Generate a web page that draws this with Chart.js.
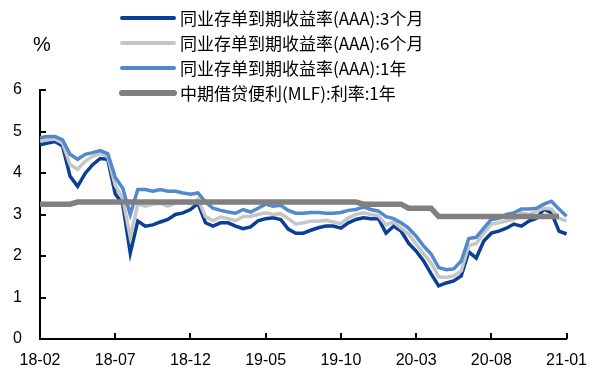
<!DOCTYPE html>
<html>
<head>
<meta charset="utf-8">
<script src="https://cdn.jsdelivr.net/npm/chart.js@4/dist/chart.umd.min.js"></script>
<style>
  html, body { margin: 0; padding: 0; background: #ffffff; }
  #wrap { width: 599px; height: 380px; position: relative; }
</style>
</head>
<body>
<div id="wrap"><canvas id="c" width="599" height="380"></canvas></div>
<script>
// Half-monthly observation dates
const dates = [
  '2018-02-01','2018-02-16','2018-03-01','2018-03-16','2018-04-01','2018-04-16','2018-05-01','2018-05-16',
  '2018-06-01','2018-06-16','2018-07-01','2018-07-16','2018-08-01','2018-08-16','2018-09-01','2018-09-16',
  '2018-10-01','2018-10-16','2018-11-01','2018-11-16','2018-12-01','2018-12-16',
  '2019-01-01','2019-01-16','2019-02-01','2019-02-16','2019-03-01','2019-03-16','2019-04-01','2019-04-16',
  '2019-05-01','2019-05-16','2019-06-01','2019-06-16','2019-07-01','2019-07-16','2019-08-01','2019-08-16',
  '2019-09-01','2019-09-16','2019-10-01','2019-10-16','2019-11-01','2019-11-16','2019-12-01','2019-12-16',
  '2020-01-01','2020-01-16','2020-02-01','2020-02-16','2020-03-01','2020-03-16','2020-04-01','2020-04-16',
  '2020-05-01','2020-05-16','2020-06-01','2020-06-16','2020-07-01','2020-07-16','2020-08-01','2020-08-16',
  '2020-09-01','2020-09-16','2020-10-01','2020-10-16','2020-11-01','2020-11-16','2020-12-01','2020-12-16',
  '2021-01-01'
];

// AAA NCD yield to maturity, 3 months (%)
const ncd3m = [
  4.68, 4.72, 4.76, 4.65, 3.92, 3.68, 3.99, 4.20, 4.35, 4.33,
  3.50, 3.25, 2.07, 2.84, 2.72, 2.75, 2.82, 2.88, 3.00, 3.04,
  3.12, 3.27, 2.80, 2.72, 2.80, 2.80, 2.72, 2.66, 2.70, 2.85,
  2.90, 2.92, 2.88, 2.65, 2.55, 2.55, 2.62, 2.68, 2.72, 2.72,
  2.67, 2.80, 2.88, 2.92, 2.90, 2.90, 2.55, 2.72, 2.60, 2.31,
  2.12, 1.88, 1.57, 1.28, 1.35, 1.40, 1.52, 2.10, 1.95, 2.36,
  2.55, 2.60, 2.67, 2.77, 2.72, 2.84, 2.91, 3.13, 3.04, 2.60, 2.53
];

// AAA NCD yield to maturity, 6 months (%)
const ncd6m = [
  4.77, 4.80, 4.82, 4.72, 4.20, 4.09, 4.28, 4.40, 4.47, 4.40,
  3.70, 3.39, 2.45, 3.25, 3.20, 3.25, 3.27, 3.20, 3.27, 3.32,
  3.25, 3.37, 2.95, 2.85, 2.94, 2.90, 2.85, 2.95, 2.96, 3.00,
  3.04, 3.00, 3.02, 2.90, 2.77, 2.80, 2.84, 2.84, 2.86, 2.82,
  2.78, 2.92, 3.00, 3.04, 3.00, 2.97, 2.75, 2.82, 2.67, 2.53,
  2.29, 2.05, 1.83, 1.50, 1.48, 1.52, 1.64, 2.25, 2.30, 2.55,
  2.77, 2.80, 2.84, 2.88, 3.04, 3.00, 3.08, 3.15, 3.13, 2.91, 2.84
];

// AAA NCD yield to maturity, 1 year (%)
const ncd1y = [
  4.85, 4.88, 4.88, 4.80, 4.45, 4.33, 4.45, 4.49, 4.54, 4.47,
  3.90, 3.63, 3.00, 3.60, 3.60, 3.56, 3.60, 3.56, 3.56, 3.52,
  3.49, 3.52, 3.30, 3.15, 3.10, 3.06, 3.03, 3.12, 3.06, 3.15,
  3.25, 3.20, 3.22, 3.10, 3.03, 3.03, 3.05, 3.05, 3.03, 3.03,
  3.05, 3.10, 3.12, 3.18, 3.12, 3.08, 2.95, 2.90, 2.80, 2.67,
  2.48, 2.24, 2.05, 1.72, 1.67, 1.69, 1.88, 2.42, 2.45, 2.67,
  2.88, 2.91, 3.00, 3.04, 3.13, 3.13, 3.15, 3.25, 3.32, 3.13, 2.96
];

// Medium-term lending facility rate, 1 year (%)
const mlf1y = [
  3.25, 3.25, 3.25, 3.25, 3.25, 3.30, 3.30, 3.30, 3.30, 3.30,
  3.30, 3.30, 3.30, 3.30, 3.30, 3.30, 3.30, 3.30, 3.30, 3.30,
  3.30, 3.30, 3.30, 3.30, 3.30, 3.30, 3.30, 3.30, 3.30, 3.30,
  3.30, 3.30, 3.30, 3.30, 3.30, 3.30, 3.30, 3.30, 3.30, 3.30,
  3.30, 3.30, 3.30, 3.25, 3.25, 3.25, 3.25, 3.25, 3.25, 3.15,
  3.15, 3.15, 3.15, 2.95, 2.95, 2.95, 2.95, 2.95, 2.95, 2.95,
  2.95, 2.95, 2.95, 2.95, 2.95, 2.95, 2.95, 2.95, 2.95, 2.95, null
];

const seriesNames = [
  '同业存单到期收益率(AAA):3个月',
  '同业存单到期收益率(AAA):6个月',
  '同业存单到期收益率(AAA):1年',
  '中期借贷便利(MLF):利率:1年'
];
const unitLabel = '%';
const tickEvery = 10;

const axisFont = { family: "'Liberation Sans', Arial, sans-serif", size: 16 };
const cjkFont = "17px 'Noto Sans CJK SC', 'Liberation Sans', sans-serif";

// Short inward tick marks on both axes
const inwardTicks = {
  id: 'inwardTicks',
  afterDraw(chart) {
    const { ctx, chartArea, scales } = chart;
    const len = 6;
    ctx.save();
    ctx.strokeStyle = '#000';
    ctx.lineWidth = 2;
    ctx.beginPath();
    scales.y.ticks.forEach((t, i) => {
      const y = Math.round(scales.y.getPixelForTick(i));
      ctx.moveTo(chartArea.left, y);
      ctx.lineTo(chartArea.left + len, y);
    });
    scales.x.ticks.forEach((t, i) => {
      if (i % tickEvery !== 0) return;
      const x = Math.round(scales.x.getPixelForTick(i));
      ctx.moveTo(x, chartArea.bottom);
      ctx.lineTo(x, chartArea.bottom - len);
    });
    ctx.stroke();
    ctx.restore();
  }
};

// Stacked legend rows and the unit label
const legendRows = {
  id: 'legendRows',
  afterDraw(chart) {
    const { ctx } = chart;
    ctx.save();
    chart.data.datasets.forEach((ds, k) => {
      const y = 18 + k * 25;
      ctx.strokeStyle = ds.borderColor;
      ctx.lineWidth = ds.borderWidth + 0.5;
      ctx.lineCap = 'round';
      ctx.beginPath();
      ctx.moveTo(122, y);
      ctx.lineTo(174, y);
      ctx.stroke();
      ctx.fillStyle = '#000';
      ctx.font = cjkFont;
      ctx.textBaseline = 'middle';
      ctx.textAlign = 'left';
      ctx.fillText(ds.label, 180, y + 1);
    });
    ctx.font = "20px 'Liberation Sans', Arial, sans-serif";
    ctx.textAlign = 'center';
    ctx.textBaseline = 'middle';
    ctx.fillText(unitLabel, 42, 45);
    ctx.restore();
  }
};

const lineStyle = (label, data, color, width, order) => ({
  label, data, borderColor: color, backgroundColor: color, borderWidth: width,
  pointRadius: 0, tension: 0, fill: false, order, spanGaps: false
});

new Chart(document.getElementById('c'), {
  type: 'line',
  data: {
    labels: dates,
    datasets: [
      lineStyle(seriesNames[0], ncd3m, '#0B3F96', 3.5, 4),
      lineStyle(seriesNames[1], ncd6m, '#C6C6C6', 3.5, 3),
      lineStyle(seriesNames[2], ncd1y, '#5288CC', 3.5, 2),
      lineStyle(seriesNames[3], mlf1y, '#808080', 5.5, 1)
    ]
  },
  options: {
    responsive: false,
    animation: false,
    devicePixelRatio: 1,
    layout: { padding: { top: 90, right: 31, bottom: 0, left: 0 } },
    plugins: { legend: { display: false }, tooltip: { enabled: false } },
    scales: {
      x: {
        type: 'category',
        offset: false,
        grid: { display: false, drawTicks: false },
        border: { display: true, color: '#000', width: 2 },
        ticks: {
          autoSkip: false, maxRotation: 0, minRotation: 0, padding: 12,
          color: '#000', font: axisFont,
          callback(value, index) {
            return index % tickEvery === 0 ? dates[index].slice(2, 7) : '';
          }
        },
        afterFit(scale) { scale.height = 41; }
      },
      y: {
        min: 0, max: 6,
        grid: { display: false, drawTicks: false },
        border: { display: true, color: '#000', width: 2 },
        ticks: { stepSize: 1, padding: 18, color: '#000', font: axisFont },
        afterFit(scale) { scale.width = 40; }
      }
    }
  },
  plugins: [inwardTicks, legendRows]
});
</script>
</body>
</html>
